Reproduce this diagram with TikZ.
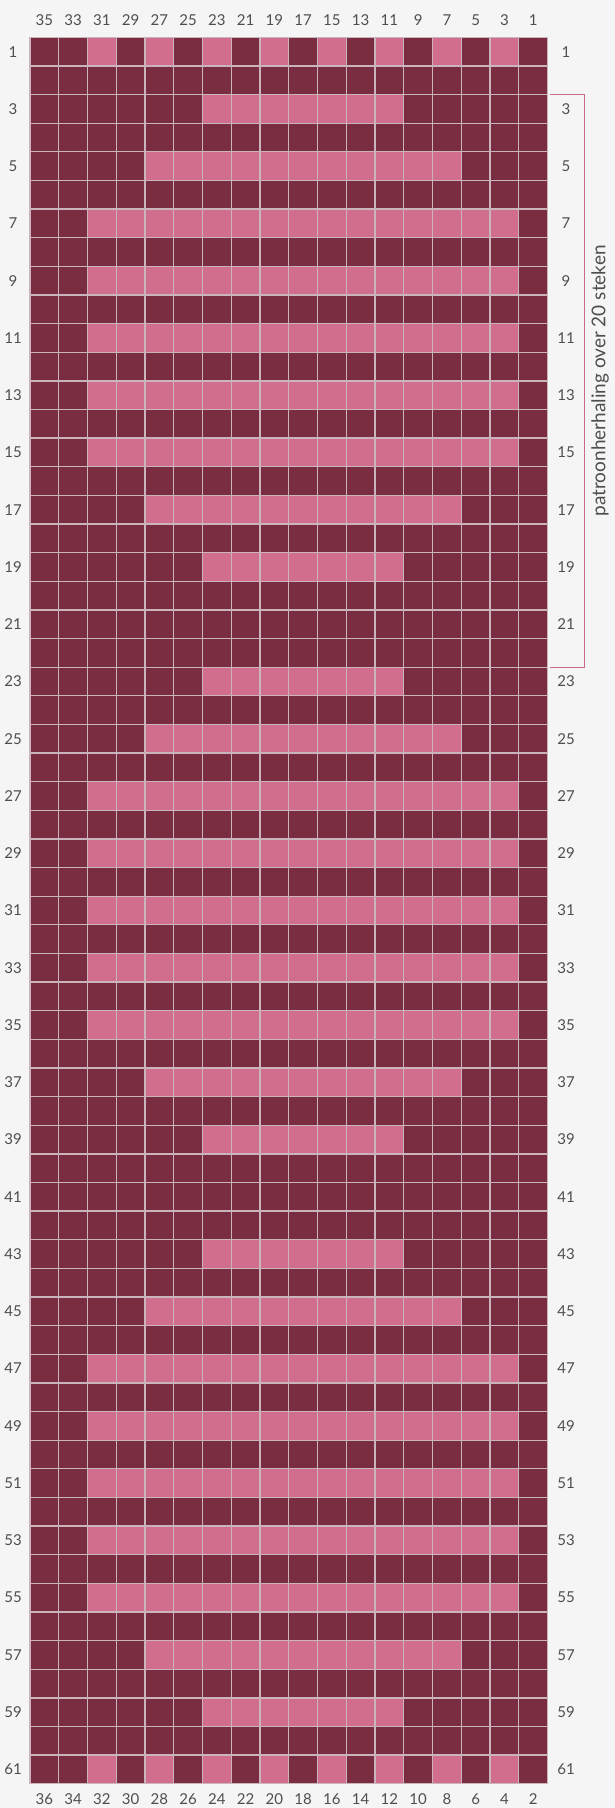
\documentclass[tikz,border=0pt]{standalone}
\usepackage{fontspec}
\setmainfont{Lato}
\definecolor{maroon}{HTML}{7A2C40}
\definecolor{rose}{HTML}{D26E8D}
\definecolor{gridline}{HTML}{C9B5BB}
\definecolor{labelgrey}{HTML}{4E4E4E}
\definecolor{bracketc}{HTML}{C86A88}
\definecolor{bg}{HTML}{F5F5F5}
\begin{document}
\begin{tikzpicture}[x=1pt,y=-1pt,
  lbl/.style={text=labelgrey,font=\fontsize{15}{17}\selectfont,inner sep=0pt},
  pinkcell/.style={fill=rose},
  gridrule/.style={draw=gridline,line width=1.3pt},
  bracketline/.style={draw=bracketc,line width=1pt}]
\def\cw{28.75}
\def\ch{28.63}
\def\gx{30}
\def\gy{37.3}
\fill[bg] (0,0) rectangle (615,1808);
\useasboundingbox (0,0) rectangle (615,1808);
% base
\fill[maroon] (\gx,\gy) rectangle ({\gx+18*\cw},{\gy+61*\ch});
% alternating rows
\foreach \r in {1,61}
  \foreach \c in {3,5,...,17}
    \fill[pinkcell] ({\gx+(\c-1)*\cw},{\gy+(\r-1)*\ch}) rectangle +(\cw,\ch);
% columns 7-13
\foreach \r in {3,19,23,39,43,59}
  \fill[pinkcell] ({\gx+6*\cw},{\gy+(\r-1)*\ch}) rectangle +({7*\cw},\ch);
% columns 5-15
\foreach \r in {5,17,25,37,45,57}
  \fill[pinkcell] ({\gx+4*\cw},{\gy+(\r-1)*\ch}) rectangle +({11*\cw},\ch);
% columns 3-17
\foreach \r in {7,9,11,13,15,27,29,31,33,35,47,49,51,53,55}
  \fill[pinkcell] ({\gx+2*\cw},{\gy+(\r-1)*\ch}) rectangle +({15*\cw},\ch);
% grid lines
\foreach \i in {0,...,18}
  \draw[gridrule] ({\gx+\i*\cw},\gy) -- ++(0,{61*\ch});
\foreach \j in {0,...,61}
  \draw[gridrule] (\gx,{\gy+\j*\ch}) -- ++({18*\cw},0);
% column labels
\foreach \i in {0,...,17}{
  \pgfmathtruncatemacro\nt{35-2*\i}
  \pgfmathtruncatemacro\nb{36-2*\i}
  \node[lbl] (top\nt) at ({\gx+(\i+0.5)*\cw},20) {\nt};
  \node[lbl] (bot\nb) at ({\gx+(\i+0.5)*\cw},1799) {\nb};
}
% row labels
\foreach \r in {1,3,...,61}{
  \node[lbl] (left\r) at (13,{\gy+(\r-0.5)*\ch}) {\r};
  \node[lbl] (right\r) at (566,{\gy+(\r-0.5)*\ch}) {\r};
}
% bracket
\coordinate (brA) at (550,{\gy+2*\ch});
\coordinate (brB) at (584.3,{\gy+2*\ch});
\coordinate (brC) at (584.3,{\gy+22*\ch});
\coordinate (brD) at (550,{\gy+22*\ch});
\draw[bracketline] (brA) -- (brB) -- (brC) -- (brD);
\node[lbl,rotate=90,font=\fontsize{19}{21}\selectfont] (repeatnote) at (600,{\gy+12*\ch}) {patroonherhaling over 20 steken};
\end{tikzpicture}
\end{document}
